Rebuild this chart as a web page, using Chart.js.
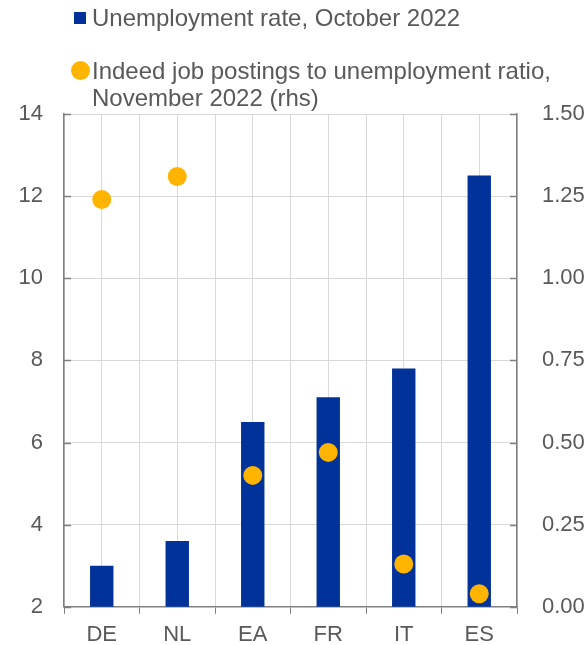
<!DOCTYPE html>
<html>
<head>
<meta charset="utf-8">
<script src="https://cdn.jsdelivr.net/npm/chart.js@4/dist/chart.umd.min.js"></script>
<style>
  body { margin: 0; background: #fff; }
  #wrap { position: relative; width: 587px; height: 645px; }
  #legend {
    position: absolute; left: 0; top: 0; width: 587px;
    font-family: "Liberation Sans", Arial, sans-serif; font-size: 24px; color: #595959;
  }
  .item { position: absolute; left: 92px; line-height: 27px; white-space: nowrap; }
  .box { position: absolute; left: 74px; top: 12px; width: 12px; height: 12px; background: #003299; }
  .dot { position: absolute; left: 71px; top: 61px; width: 19px; height: 19px; border-radius: 50%; background: #ffb400; }
</style>
</head>
<body>
<div id="wrap">
  <canvas id="jobsChart"></canvas>
  <div id="legend">
    <span class="box"></span>
    <div class="item" style="top:4px">Unemployment rate, October 2022</div>
    <span class="dot"></span>
    <div class="item" style="top:57px">Indeed job postings to unemployment ratio,<br>November 2022 (rhs)</div>
  </div>
</div>
<script>
// countries and values
const countries = ['DE', 'NL', 'EA', 'FR', 'IT', 'ES'];
const unemploymentRate = [3.0, 3.6, 6.5, 7.1, 7.8, 12.5];      // %, left axis
const postingsRatio = [1.24, 1.31, 0.40, 0.47, 0.13, 0.04];    // right axis

const blue = '#003299';
const yellow = '#ffb400';
const axisGrey = '#808080';
const gridGrey = '#d9d9d9';
const textGrey = '#595959';

Chart.defaults.font.family = '"Liberation Sans", Arial, sans-serif';
Chart.defaults.font.size = 22;
Chart.defaults.color = textGrey;

// short tick marks pointing into the plot on both value axes
const innerTicks = {
  id: 'innerTicks',
  beforeDatasetsDraw(chart) {
    const { ctx, chartArea } = chart;
    const left = chart.scales.y;
    const right = chart.scales.y1;
    ctx.save();
    ctx.strokeStyle = axisGrey;
    ctx.lineWidth = 1.5;
    ctx.beginPath();
    left.ticks.forEach(t => {
      const py = Math.round(left.getPixelForValue(t.value)) + 0.5;
      ctx.moveTo(chartArea.left, py);
      ctx.lineTo(chartArea.left + 7, py);
    });
    right.ticks.forEach(t => {
      const py = Math.round(right.getPixelForValue(t.value)) + 0.5;
      ctx.moveTo(chartArea.right - 7, py);
      ctx.lineTo(chartArea.right, py);
    });
    ctx.stroke();
    ctx.restore();
  }
};

const ctx = document.getElementById('jobsChart').getContext('2d');
const jobsChart = new Chart(ctx, {
  type: 'bar',
  data: {
    labels: countries,
    datasets: [
      {
        type: 'line',
        label: 'Indeed job postings to unemployment ratio, November 2022 (rhs)',
        data: postingsRatio,
        yAxisID: 'y1',
        showLine: false,
        pointRadius: 9.5,
        pointHoverRadius: 9.5,
        pointBackgroundColor: yellow,
        pointBorderWidth: 0,
        backgroundColor: yellow,
        borderColor: yellow
      },
      {
        label: 'Unemployment rate, October 2022',
        data: unemploymentRate,
        yAxisID: 'y',
        backgroundColor: blue,
        categoryPercentage: 1,
        barPercentage: 0.31
      }
    ]
  },
  options: {
    responsive: true,
    maintainAspectRatio: false,
    animation: false,
    layout: { padding: { top: 114, left: 0, right: 0, bottom: 0 } },
    plugins: {
      legend: { display: false },
      tooltip: { enabled: false }
    },
    scales: {
      x: {
        offset: true,
        grid: { offset: true, color: gridGrey, tickColor: axisGrey, tickLength: 7 },
        border: { color: axisGrey, width: 1.5 },
        ticks: { padding: 8 },
        afterFit: scale => { scale.height = 38; }
      },
      // second category axis only supplies the gridlines through each country
      x2: {
        type: 'category',
        position: 'top',
        offset: true,
        grid: { offset: false, color: gridGrey, drawTicks: false },
        border: { display: false },
        ticks: { display: false }
      },
      y: {
        position: 'left',
        min: 2,
        max: 14,
        ticks: { stepSize: 2, padding: 21 },
        grid: { color: gridGrey, drawTicks: false },
        border: { color: axisGrey, width: 1.5 },
        afterFit: scale => { scale.width = 64; }
      },
      y1: {
        position: 'right',
        min: 0,
        max: 1.5,
        ticks: { stepSize: 0.25, padding: 25, callback: v => v.toFixed(2) },
        grid: { drawOnChartArea: false, drawTicks: false },
        border: { color: axisGrey, width: 1.5 },
        afterFit: scale => { scale.width = 70; }
      }
    }
  },
  plugins: [innerTicks]
});
</script>
</body>
</html>
